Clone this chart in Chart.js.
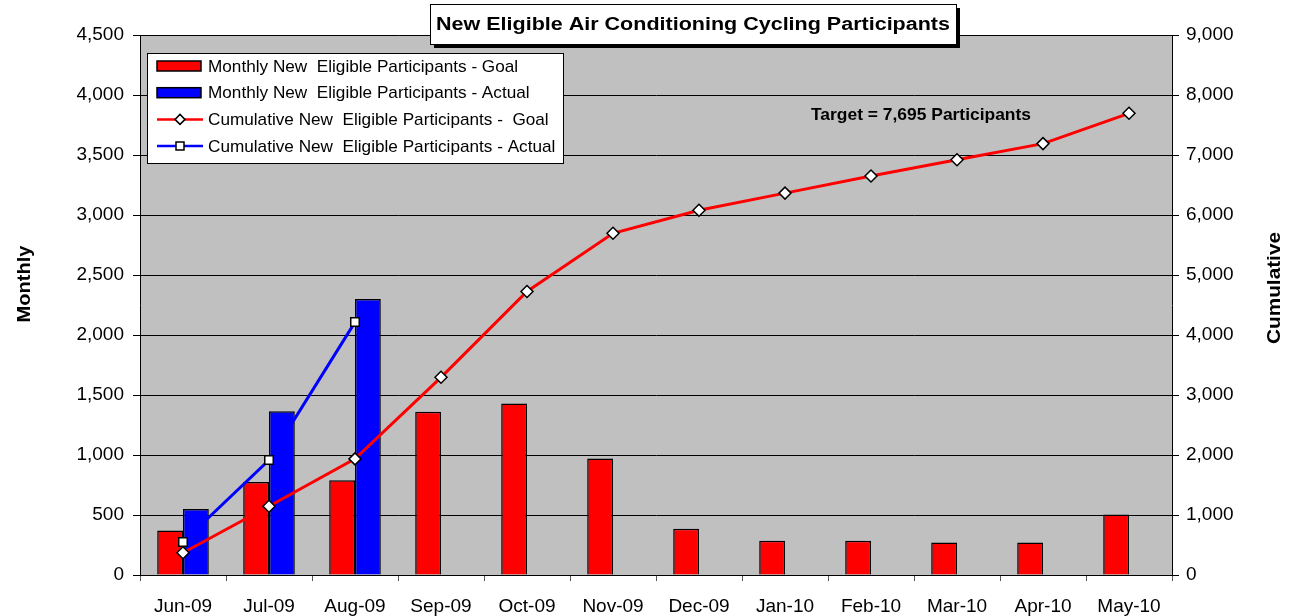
<!DOCTYPE html>
<html>
<head>
<meta charset="utf-8">
<script src="https://cdn.jsdelivr.net/npm/chart.js@4"></script>
<style>
  html, body { margin: 0; padding: 0; background: #fff; }
  #wrap { width: 1302px; height: 616px; }
</style>
</head>
<body>
<div id="wrap"><canvas id="chart" width="1302" height="616"></canvas></div>
<script>
const months = ["Jun-09", "Jul-09", "Aug-09", "Sep-09", "Oct-09", "Nov-09", "Dec-09", "Jan-10", "Feb-10", "Mar-10", "Apr-10", "May-10"];
const monthlyGoal = [370, 775, 790, 1360, 1430, 970, 385, 285, 285, 270, 270, 505];
const monthlyActual = [550, 1365, 2300, null, null, null, null, null, null, null, null, null];
const cumulativeGoal = [370, 1145, 1935, 3295, 4725, 5695, 6080, 6365, 6650, 6920, 7190, 7695];
const cumulativeActual = [550, 1915, 4215, null, null, null, null, null, null, null, null, null];

const chartTitle = "New Eligible Air Conditioning Cycling Participants";
const targetNote = "Target = 7,695 Participants";
const FONT = "'Liberation Sans', Arial, sans-serif";

// draw text squeezed/stretched to a given width (the original looks widened)
function wideText(ctx, text, x, y, width) {
    const w = ctx.measureText(text).width;
    ctx.save();
    ctx.translate(x, y);
    ctx.scale(width / w, 1);
    ctx.fillText(text, 0, 0);
    ctx.restore();
}

// grey plot area, title box, axis titles, note and legend
const decor = {
    id: 'decor',
    beforeDraw(chart) {
        const ctx = chart.ctx;
        const a = chart.chartArea;
        ctx.save();
        ctx.fillStyle = '#c0c0c0';
        ctx.fillRect(a.left, a.top, a.right - a.left, a.bottom - a.top);
        ctx.restore();
    },
    afterDraw(chart) {
        const ctx = chart.ctx;
        ctx.save();

        // axis titles
        ctx.fillStyle = '#000';
        ctx.font = "bold 19px " + FONT;
        ctx.textAlign = 'center';
        ctx.textBaseline = 'middle';
        ctx.save();
        ctx.translate(25, 284);
        ctx.rotate(-Math.PI / 2);
        wideText(ctx, "Monthly", 0, 0, 77);
        ctx.restore();
        ctx.save();
        ctx.translate(1275, 288);
        ctx.rotate(-Math.PI / 2);
        wideText(ctx, "Cumulative", 0, 0, 112);
        ctx.restore();

        // target note
        ctx.font = "bold 17px " + FONT;
        ctx.textAlign = 'left';
        wideText(ctx, targetNote, 811, 115, 220);

        // title box with shadow
        const tx = 430, ty = 4, tw = 526, th = 40;
        ctx.fillStyle = '#000';
        ctx.fillRect(tx + 4, ty + 4, tw, th);
        ctx.fillStyle = '#fff';
        ctx.fillRect(tx, ty, tw, th);
        ctx.strokeStyle = '#000';
        ctx.lineWidth = 1;
        ctx.strokeRect(tx + 0.5, ty + 0.5, tw, th);
        ctx.fillStyle = '#000';
        ctx.font = "bold 18px " + FONT;
        ctx.textAlign = 'center';
        wideText(ctx, chartTitle, tx + tw / 2, ty + th / 2 + 1, 514);

        // legend
        const lx = 147, ly = 53, lw = 416, lh = 110;
        ctx.fillStyle = '#fff';
        ctx.fillRect(lx, ly, lw, lh);
        ctx.strokeStyle = '#000';
        ctx.strokeRect(lx + 0.5, ly + 0.5, lw, lh);
        ctx.font = "17px " + FONT;
        ctx.textAlign = 'left';
        chart.data.datasets.forEach((ds, i) => {
            const cy = 66 + i * 26.7;
            if (ds.type === 'bar') {
                ctx.fillStyle = ds.backgroundColor;
                ctx.fillRect(157, cy - 5, 44, 10);
                ctx.strokeStyle = '#000';
                ctx.lineWidth = 1.5;
                ctx.strokeRect(157, cy - 5, 44, 10);
            } else {
                ctx.strokeStyle = ds.borderColor;
                ctx.lineWidth = 2.5;
                ctx.beginPath();
                ctx.moveTo(157, cy);
                ctx.lineTo(203, cy);
                ctx.stroke();
                ctx.fillStyle = '#fff';
                ctx.strokeStyle = '#000';
                ctx.lineWidth = 1.5;
                ctx.beginPath();
                if (ds.pointStyle === 'rectRot') {
                    ctx.moveTo(180, cy - 5);
                    ctx.lineTo(185, cy);
                    ctx.lineTo(180, cy + 5);
                    ctx.lineTo(175, cy);
                    ctx.closePath();
                } else {
                    ctx.rect(176, cy - 4, 8, 8);
                }
                ctx.fill();
                ctx.stroke();
            }
            ctx.fillStyle = '#000';
            const w = ctx.measureText(ds.label).width;
            wideText(ctx, ds.label, 208, cy + 1, w * 1.01);
        });
        ctx.restore();
    }
};

const ctx = document.getElementById('chart').getContext('2d');
const myChart = new Chart(ctx, {
    data: {
        labels: months,
        datasets: [
            {
                type: 'bar',
                label: "Monthly New  Eligible Participants - Goal",
                data: monthlyGoal,
                backgroundColor: '#ff0000',
                borderColor: '#000',
                borderWidth: 1.5,
                yAxisID: 'y',
                order: 2
            },
            {
                type: 'bar',
                label: "Monthly New  Eligible Participants - Actual",
                data: monthlyActual,
                backgroundColor: '#0000ff',
                borderColor: '#000',
                borderWidth: 1.5,
                yAxisID: 'y',
                order: 2
            },
            {
                type: 'line',
                label: "Cumulative New  Eligible Participants -  Goal",
                data: cumulativeGoal,
                borderColor: '#ff0000',
                borderWidth: 3,
                pointStyle: 'rectRot',
                pointRadius: 6,
                pointBackgroundColor: '#fff',
                pointBorderColor: '#000',
                pointBorderWidth: 1.5,
                yAxisID: 'y1',
                order: 1
            },
            {
                type: 'line',
                label: "Cumulative New  Eligible Participants - Actual",
                data: cumulativeActual,
                borderColor: '#0000ff',
                borderWidth: 3,
                pointStyle: 'rect',
                pointRadius: 6,
                pointBackgroundColor: '#fff',
                pointBorderColor: '#000',
                pointBorderWidth: 1.5,
                yAxisID: 'y1',
                order: 1
            }
        ]
    },
    options: {
        responsive: false,
        animation: false,
        layout: { padding: { top: 35, left: 0, right: 0, bottom: 0 } },
        datasets: {
            bar: { barPercentage: 1, categoryPercentage: 0.6 }
        },
        plugins: {
            legend: { display: false },
            title: { display: false },
            tooltip: { enabled: false }
        },
        scales: {
            x: {
                offset: true,
                grid: {
                    offset: true,
                    drawOnChartArea: false,
                    tickLength: 6,
                    tickColor: '#555'
                },
                border: { color: '#000', width: 1 },
                ticks: {
                    color: '#000',
                    font: { family: FONT, size: 19 },
                    padding: 14,
                    maxRotation: 0
                },
                afterFit(scale) { scale.height = 41; }
            },
            y: {
                position: 'left',
                min: 0,
                max: 4500,
                grid: {
                    color: '#000',
                    lineWidth: 1,
                    tickLength: 7,
                    tickColor: '#000'
                },
                border: { color: '#000', width: 1 },
                ticks: {
                    stepSize: 500,
                    color: '#000',
                    font: { family: FONT, size: 19 },
                    padding: 9,
                    callback: v => v.toLocaleString('en-US')
                },
                afterFit(scale) { scale.width = 140; }
            },
            y1: {
                position: 'right',
                min: 0,
                max: 9000,
                grid: {
                    drawOnChartArea: false,
                    tickLength: 7,
                    tickColor: '#000'
                },
                border: { color: '#000', width: 1 },
                ticks: {
                    stepSize: 1000,
                    color: '#000',
                    font: { family: FONT, size: 19 },
                    padding: 7,
                    callback: v => v.toLocaleString('en-US')
                },
                afterFit(scale) { scale.width = 130; }
            }
        }
    },
    plugins: [decor]
});
</script>
</body>
</html>
